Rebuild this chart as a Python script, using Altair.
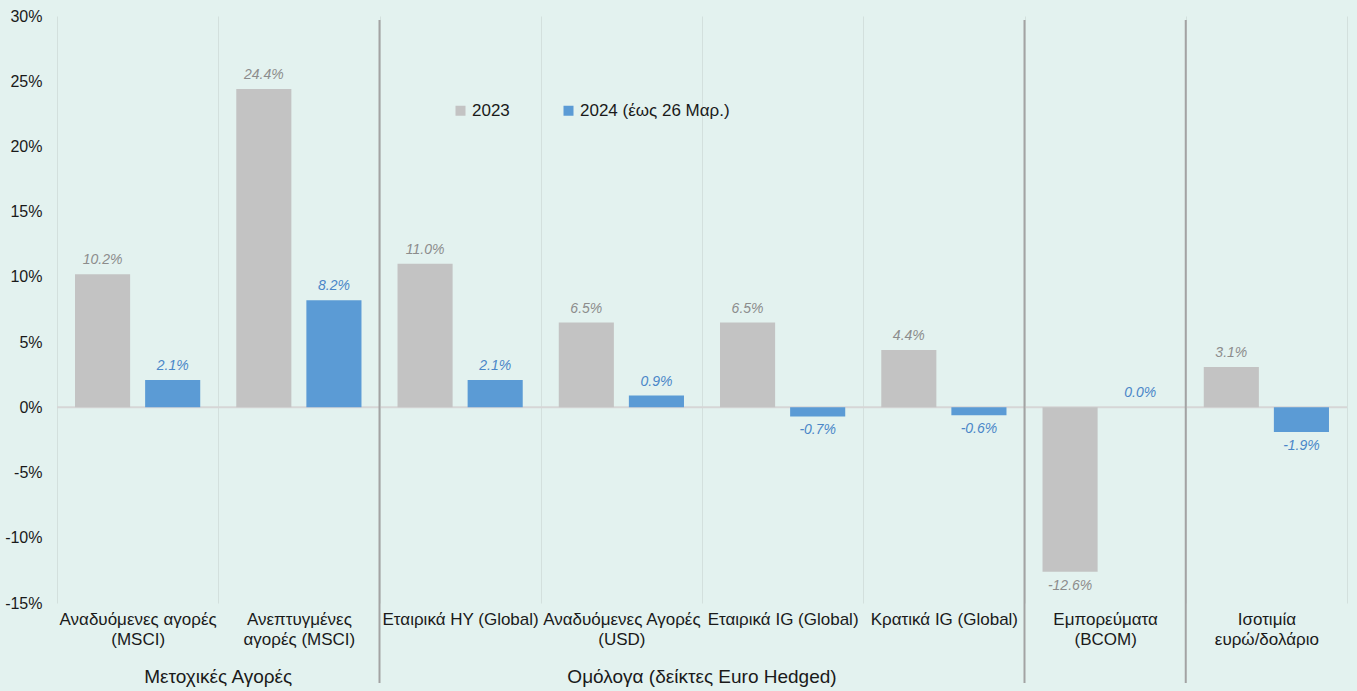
import altair as alt
import pandas as pd

categories = [
    "Αναδυόμενες αγορές\n(MSCI)",
    "Ανεπτυγμένες\nαγορές (MSCI)",
    "Εταιρικά HY (Global)",
    "Αναδυόμενες Αγορές\n(USD)",
    "Εταιρικά IG (Global)",
    "Κρατικά IG (Global)",
    "Εμπορεύματα\n(BCOM)",
    "Ισοτιμία\nευρώ/δολάριο",
]
series_names = ["2023", "2024 (έως 26 Μαρ.)"]
values_2023 = [10.2, 24.4, 11.0, 6.5, 6.5, 4.4, -12.6, 3.1]
values_2024 = [2.1, 8.2, 2.1, 0.9, -0.7, -0.6, 0.0, -1.9]
separator_before = [categories[2], categories[6], categories[7]]
group_names = ["Μετοχικές Αγορές", "Ομόλογα (δείκτες Euro Hedged)"]
group_center_at = [categories[1], categories[4]]
y_ticks = [-15, -10, -5, 0, 5, 10, 15, 20, 25, 30]

rows = []
for c, a, b in zip(categories, values_2023, values_2024):
    rows.append({"cat": c, "series": series_names[0], "value": a / 100, "label": f"{a:.1f}%"})
    rows.append({"cat": c, "series": series_names[1], "value": b / 100, "label": f"{b:.1f}%"})
df = pd.DataFrame(rows)
sep_df = pd.DataFrame({"cat": separator_before})
grp_df = pd.DataFrame({"cat": group_center_at, "name": group_names})

FONT = "Liberation Sans"
GREY = "#c3c3c3"
BLUE = "#5b9bd5"

x_enc = alt.X(
    "cat:N",
    sort=categories,
    scale=alt.Scale(domain=categories, paddingInner=0, paddingOuter=0),
    axis=alt.Axis(
        title=None, labelAngle=0, domain=False, ticks=False, grid=True,
        tickBand="extent", gridColor="#d3e0dd", gridWidth=1,
        labelExpr="split(datum.label, '\\n')", labelFont=FONT, labelFontSize=17,
        labelColor="#1a1a1a", labelPadding=8, labelLineHeight=20, labelLimit=300,
    ),
)
y_scale = alt.Scale(domain=[-0.15, 0.30], nice=False, zero=False)
y_enc = alt.Y(
    "value:Q",
    scale=y_scale,
    axis=alt.Axis(
        title=None, domain=False, ticks=False, grid=False,
        values=[t / 100 for t in y_ticks],
        labelExpr="(datum.value < -0.0001 ? '-' : '') + format(abs(datum.value), '.0%')",
        labelFont=FONT, labelFontSize=16, labelColor="#1a1a1a", labelPadding=15,
    ),
)
xoff = alt.XOffset(
    "series:N",
    sort=series_names,
    scale=alt.Scale(domain=series_names, paddingInner=0.214, paddingOuter=0.257),
)
color = alt.Color(
    "series:N",
    sort=series_names,
    scale=alt.Scale(domain=series_names, range=[GREY, BLUE]),
    legend=alt.Legend(
        title=None, orient="none", legendX=395, legendY=86, direction="horizontal",
        symbolType="square", symbolSize=100, symbolStrokeWidth=0,
        labelFont=FONT, labelFontSize=17, labelColor="#1a1a1a",
        columnPadding=50, labelOffset=3,
    ),
)

base = alt.Chart(df)

zero = alt.Chart(pd.DataFrame({"z": [0]})).mark_rule(color="#d6d6d6", strokeWidth=2).encode(
    y=alt.Y("z:Q", scale=y_scale)
)

bars = base.mark_bar().encode(x=x_enc, y=y_enc, xOffset=xoff, color=color)

label_color = alt.Color(
    "series:N", sort=series_names,
    scale=alt.Scale(domain=series_names, range=["#8c8c8c", "#4a86c8"]),
    legend=None,
)

text_pos = base.transform_filter("datum.value >= 0").mark_text(
    baseline="bottom", dy=-7, font=FONT, fontSize=14, fontStyle="italic"
).encode(
    x=alt.X("cat:N", sort=categories),
    xOffset=alt.XOffset("series:N", sort=series_names),
    y=alt.Y("value:Q"),
    text="label:N",
    color=label_color,
)
text_neg = base.transform_filter("datum.value < 0").mark_text(
    baseline="top", dy=7, font=FONT, fontSize=14, fontStyle="italic"
).encode(
    x=alt.X("cat:N", sort=categories),
    xOffset=alt.XOffset("series:N", sort=series_names),
    y=alt.Y("value:Q"),
    text="label:N",
    color=label_color,
)

seps = alt.Chart(sep_df).mark_rule(color="#a3a3a3", strokeWidth=2).encode(
    x=alt.X("cat:N", sort=categories, bandPosition=0),
    y=alt.value(4),
    y2=alt.value(667),
)

groups = alt.Chart(grp_df).mark_text(
    font=FONT, fontSize=19, color="#1a1a1a", baseline="middle"
).encode(
    x=alt.X("cat:N", sort=categories, bandPosition=0),
    y=alt.value(661),
    text="name:N",
)

chart = alt.layer(zero, bars, text_pos, text_neg, seps, groups).resolve_scale(
    color="independent"
).properties(
    width=1290,
    height=587,
    autosize=alt.AutoSizeParams(type="none"),
    padding={"left": 57, "top": 16, "right": 10, "bottom": 88},
    background="#e3f2ef",
).configure_view(stroke=None)

chart.save("out.html", embed_options={"renderer": "svg", "actions": False})
